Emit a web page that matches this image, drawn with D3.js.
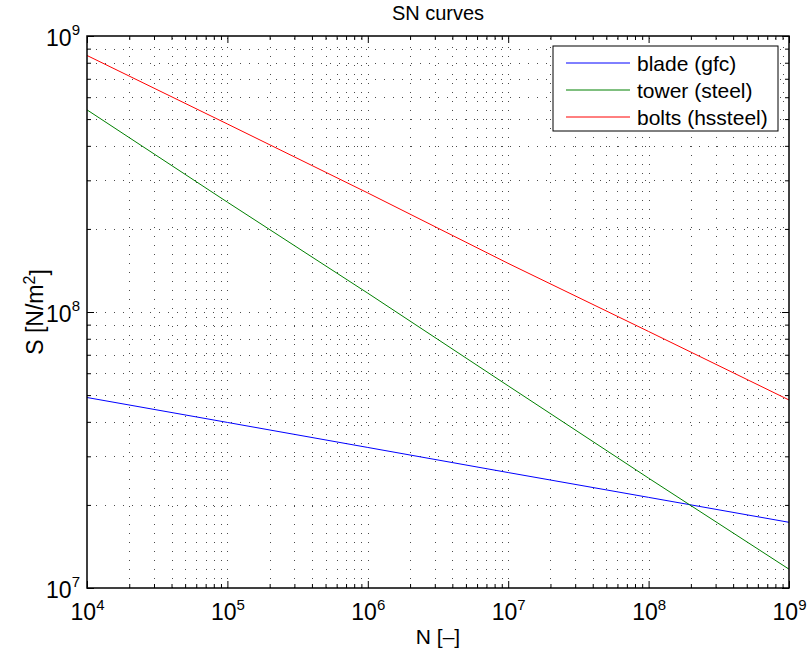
<!DOCTYPE html>
<html>
<head>
<meta charset="utf-8">
<script src="https://cdn.jsdelivr.net/npm/d3@7"></script>
<style>
body { margin: 0; background: #fff; }
svg text { font-family: "Liberation Sans", Arial, Helvetica, sans-serif; fill: #000; }
</style>
</head>
<body>
<div id="chart"></div>
<script>
// values (N in cycles, S in N/m^2)
const cycles = [1e4, 1e5, 1e6, 1e7, 1e8, 1e9];
const bladeS = [4.9e7, 3.98e7, 3.23e7, 2.62e7, 2.13e7, 1.73e7];
const towerS = [5.4e8, 2.5e8, 1.17e8, 5.4e7, 2.5e7, 1.17e7];
const boltsS = [8.5e8, 4.8e8, 2.7e8, 1.5e8, 8.5e7, 4.8e7];
const seriesNames = ["blade (gfc)", "tower (steel)", "bolts (hssteel)"];
const seriesColors = ["#0000ff", "#008000", "#ff0000"];
const xTickExp = [4, 5, 6, 7, 8, 9];
const yTickExp = [7, 8, 9];

const width = 808, height = 659;
const margin = {top: 36, right: 19, bottom: 71, left: 87};
const iw = width - margin.left - margin.right;
const ih = height - margin.top - margin.bottom;

const svg = d3.select("#chart").append("svg")
  .attr("width", width)
  .attr("height", height);

const g = svg.append("g")
  .attr("transform", `translate(${margin.left},${margin.top})`);

const x = d3.scaleLog().domain([1e4, 1e9]).range([0, iw]);
const y = d3.scaleLog().domain([1e7, 1e9]).range([ih, 0]);

// major + minor tick values per decade
function minorTicks(exps) {
  let out = [];
  for (let i = 0; i < exps.length - 1; i++) {
    for (let k = 2; k <= 9; k++) out.push(k * Math.pow(10, exps[i]));
  }
  return out;
}
const xMajor = xTickExp.map(e => Math.pow(10, e));
const yMajor = yTickExp.map(e => Math.pow(10, e));
const xMinor = minorTicks(xTickExp);
const yMinor = minorTicks(yTickExp);

// dotted grid (major and minor)
const grid = g.append("g").attr("class", "grid")
  .attr("stroke", "#000")
  .attr("stroke-width", 1)
  .attr("stroke-dasharray", "1,8")
  .attr("opacity", 0.7);

grid.selectAll("line.gx")
  .data(xMajor.concat(xMinor).filter(d => d > 1e4 && d < 1e9))
  .enter().append("line")
  .attr("class", "gx")
  .attr("x1", d => Math.round(x(d)) + 0.5).attr("x2", d => Math.round(x(d)) + 0.5)
  .attr("y1", ih).attr("y2", 0);

grid.selectAll("line.gy")
  .data(yMajor.concat(yMinor).filter(d => d > 1e7 && d < 1e9))
  .enter().append("line")
  .attr("class", "gy")
  .attr("y1", d => Math.round(y(d)) + 0.5).attr("y2", d => Math.round(y(d)) + 0.5)
  .attr("x1", 0).attr("x2", iw);

// series lines
const series = [bladeS, towerS, boltsS];
const line = d3.line()
  .x((d, i) => x(cycles[i]))
  .y(d => y(d));

g.selectAll("path.sn")
  .data(series)
  .enter().append("path")
  .attr("class", "sn")
  .attr("fill", "none")
  .attr("stroke", (d, i) => seriesColors[i])
  .attr("stroke-width", 1)
  .attr("d", line);

// tick marks on all four sides, pointing inward
function tickAxis(axis, transform) {
  const a = g.append("g").attr("transform", transform).call(axis);
  a.select(".domain").remove();
  a.selectAll("text").remove();
  a.selectAll(".tick line").attr("stroke", "#000");
  return a;
}
tickAxis(d3.axisBottom(x).tickValues(xMajor).tickSize(-7), `translate(0,${ih})`);
tickAxis(d3.axisBottom(x).tickValues(xMinor).tickSize(-4), `translate(0,${ih})`);
tickAxis(d3.axisTop(x).tickValues(xMajor).tickSize(-7), "translate(0,0)");
tickAxis(d3.axisTop(x).tickValues(xMinor).tickSize(-4), "translate(0,0)");
tickAxis(d3.axisLeft(y).tickValues(yMajor).tickSize(-7), "translate(0,0)");
tickAxis(d3.axisLeft(y).tickValues(yMinor).tickSize(-4), "translate(0,0)");
tickAxis(d3.axisRight(y).tickValues(yMajor).tickSize(-7), `translate(${iw},0)`);
tickAxis(d3.axisRight(y).tickValues(yMinor).tickSize(-4), `translate(${iw},0)`);

// box
g.append("rect")
  .attr("width", iw).attr("height", ih)
  .attr("fill", "none")
  .attr("stroke", "#000")
  .attr("stroke-width", 1.5);

// tick labels 10^n
function powLabel(sel) {
  sel.each(function(d) {
    const t = d3.select(this);
    t.text(null);
    t.append("tspan").text("10");
    t.append("tspan")
      .attr("dy", "-0.68em")
      .style("font-size", "15px")
      .text(Math.round(Math.log10(d)));
  });
}

const xLab = g.append("g").attr("transform", `translate(0,${ih})`)
  .call(d3.axisBottom(x).tickValues(xMajor).tickSize(0).tickPadding(0));
xLab.select(".domain").remove();
xLab.selectAll("text")
  .attr("dy", null)
  .attr("y", 32)
  .attr("font-size", 23)
  .attr("text-anchor", "middle")
  .call(powLabel);

const yLab = g.append("g")
  .call(d3.axisLeft(y).tickValues(yMajor).tickSize(0).tickPadding(0));
yLab.select(".domain").remove();
yLab.selectAll("text")
  .attr("dy", null)
  .attr("x", -7)
  .attr("y", 9)
  .attr("font-size", 23)
  .attr("text-anchor", "end")
  .call(powLabel);

// title and axis labels
svg.append("text")
  .attr("x", margin.left + iw / 2)
  .attr("y", 20)
  .attr("text-anchor", "middle")
  .attr("font-size", 20)
  .text("SN curves");

svg.append("text")
  .attr("x", margin.left + iw / 2)
  .attr("y", 644)
  .attr("text-anchor", "middle")
  .attr("font-size", 21)
  .text("N [–]");

const yTitle = svg.append("text")
  .attr("transform", `translate(43,${margin.top + ih / 2}) rotate(-90)`)
  .attr("text-anchor", "middle")
  .attr("font-size", 23);
yTitle.append("tspan").text("S [N/m");
yTitle.append("tspan").attr("dy", "-0.5em").style("font-size", "16px").text("2");
yTitle.append("tspan").attr("dy", "0.5em").text("]");

// legend
const legend = svg.append("g").attr("transform", "translate(553,46)");
legend.append("rect")
  .attr("width", 225).attr("height", 85)
  .attr("fill", "#fff")
  .attr("stroke", "#000")
  .attr("stroke-width", 1);

const items = legend.selectAll("g.item")
  .data(seriesNames)
  .enter().append("g")
  .attr("class", "item")
  .attr("transform", (d, i) => `translate(0,${17 + i * 27})`);

items.append("line")
  .attr("x1", 13).attr("x2", 77)
  .attr("stroke", (d, i) => seriesColors[i])
  .attr("stroke-width", 1);

items.append("text")
  .attr("x", 84)
  .attr("y", 8)
  .attr("font-size", 21)
  .text(d => d);
</script>
</body>
</html>
